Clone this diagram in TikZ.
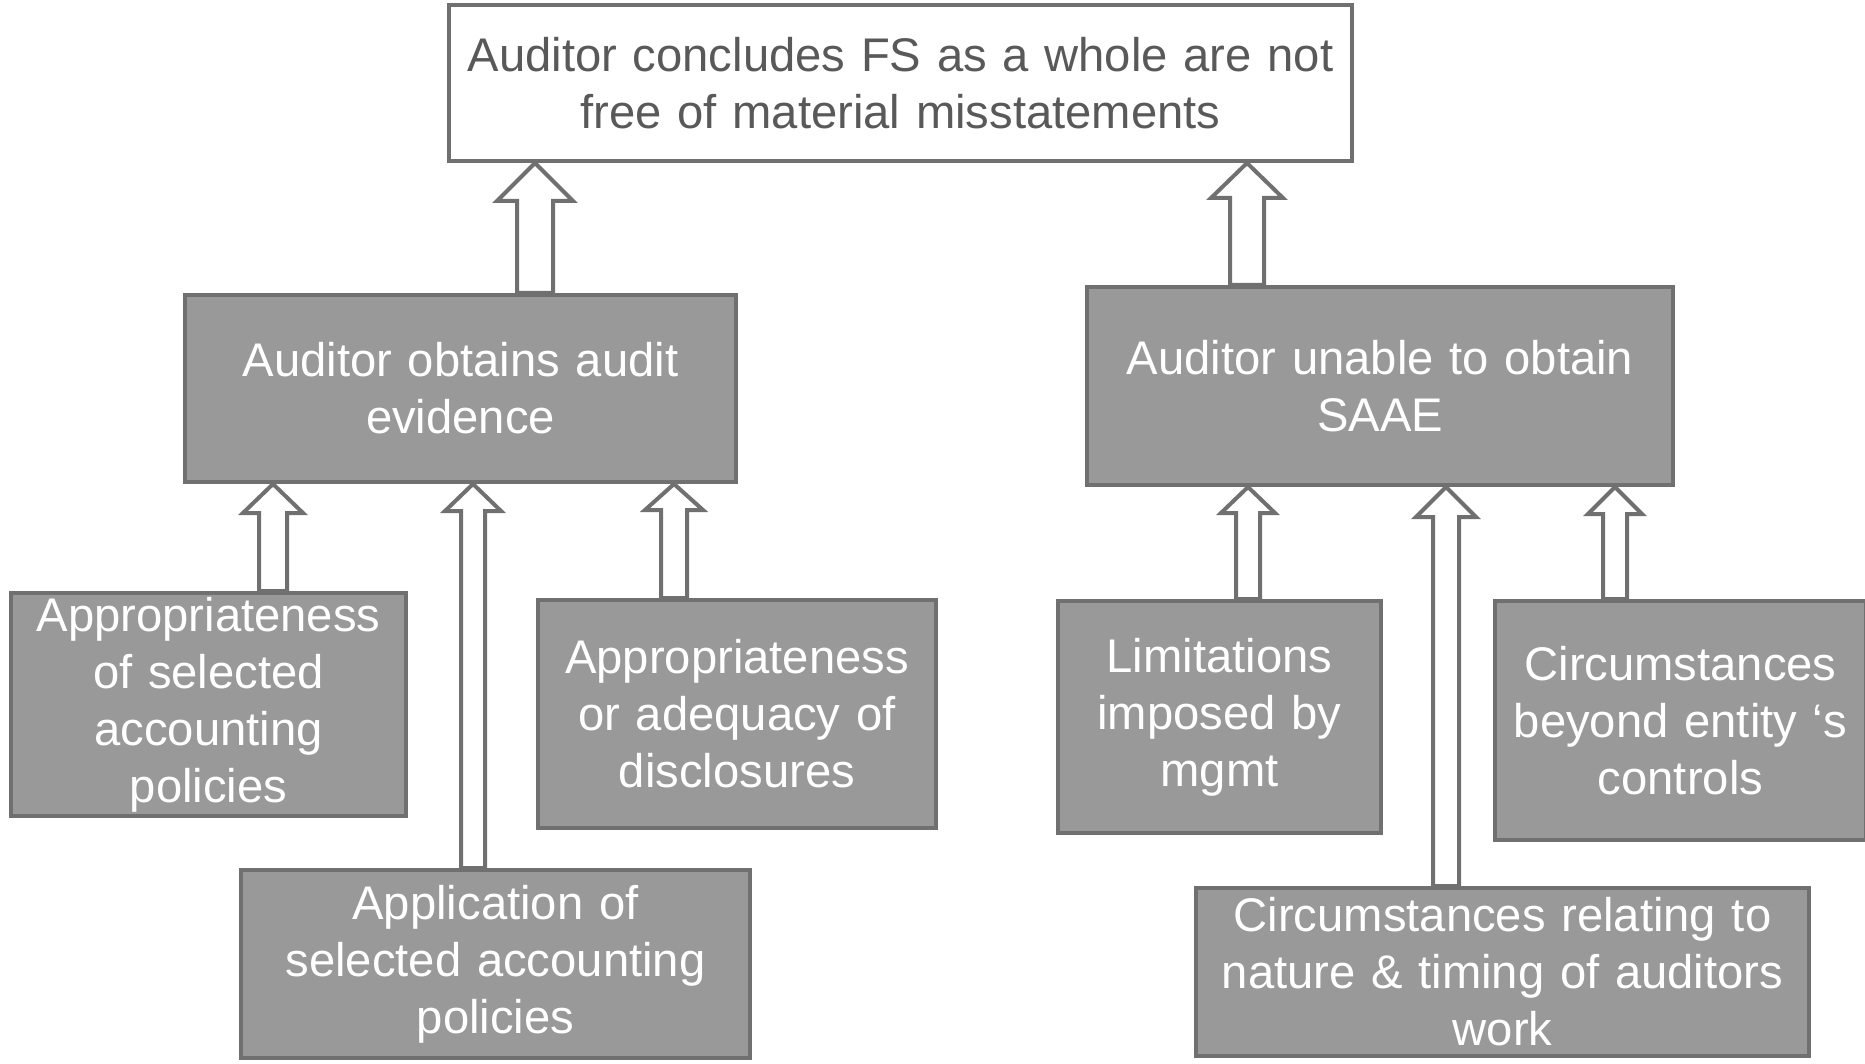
\documentclass[tikz,border=0pt]{standalone}
\usepackage{fontspec}
\setmainfont{Liberation Sans}
\usetikzlibrary{calc}

\definecolor{boxfill}{RGB}{153,153,153}
\definecolor{boxline}{RGB}{112,112,112}
\definecolor{toptext}{RGB}{89,89,89}

\tikzset{
  greybox/.style={draw=boxline, fill=boxfill, line width=2pt, text=white, inner sep=0pt,
    align=center, font=\fontsize{23.6}{28.5}\selectfont},
  arrowline/.style={draw=boxline, fill=white, line width=2pt, line join=miter}
}

% x, from, to, shaft half, head half, head length
\newcommand{\blockup}[6]{%
  \coordinate (b) at (#1,0 |- #2.north);
  \coordinate (t) at (#1,0 |- #3.south);
  \draw[arrowline] ($(b)+(-#4,0)$) -- ($(t)+(-#4,#6)$) -- ($(t)+(-#5,#6)$) -- (t)
    -- ($(t)+(#5,#6)$) -- ($(t)+(#4,#6)$) -- ($(b)+(#4,0)$) -- cycle;}

\begin{document}
\begin{tikzpicture}[x=0.5pt, y=-0.5pt]
        \path[fill=white] (0,0) rectangle (1865,1064);
        \useasboundingbox (0,0) rectangle (1865,1064);
        \node[greybox, fill=white, text=toptext, minimum width=451.5pt, minimum height=78pt, text width=449pt] (top) at (900.5,83)
            {Auditor concludes FS as a whole are not\\free of material misstatements};
        \node[greybox, minimum width=275.5pt, minimum height=93.5pt, text width=260pt] (ev) at (460.5,388.5)
            {Auditor obtains audit\\evidence};
        \node[greybox, minimum width=293pt, minimum height=99pt, text width=280pt] (saae) at (1380,386)
            {Auditor unable to obtain\\SAAE};
        \node[greybox, minimum width=197.5pt, minimum height=111.5pt, text width=190pt] (sel) at (208.5,704.5)
            {Appropriateness\\of selected\\accounting\\policies};
        \node[greybox, minimum width=254.5pt, minimum height=94pt, text width=245pt] (app) at (495.5,964)
            {Application of\\selected accounting\\policies};
        \node[greybox, minimum width=199pt, minimum height=114pt, text width=190pt] (disc) at (737,714)
            {Appropriateness\\or adequacy of\\disclosures};
        \node[greybox, minimum width=161.5pt, minimum height=116pt, text width=155pt] (lim) at (1219.5,717)
            {Limitations\\imposed by\\mgmt};
        \node[greybox, minimum width=185.5pt, minimum height=119.5pt, text width=180pt] (beyond) at (1680.5,720.5)
            {Circumstances\\beyond entity ‘s\\controls};
        \node[greybox, minimum width=306.5pt, minimum height=84pt, text width=300pt] (nature) at (1502.5,972)
            {Circumstances relating to\\nature \& timing of auditors\\work};
        \blockup{535}{ev}{top}{18}{38}{38}
        \blockup{1247}{saae}{top}{17}{36}{35}
        \blockup{273}{sel}{ev}{14}{30}{29}
        \blockup{473}{app}{ev}{12}{28}{27}
        \blockup{674}{disc}{ev}{13}{29}{26}
        \blockup{1248}{lim}{saae}{12}{27}{26}
        \blockup{1446}{nature}{saae}{13}{30}{30}
        \blockup{1615}{beyond}{saae}{12}{27}{27}
    \end{tikzpicture}
\end{document}
